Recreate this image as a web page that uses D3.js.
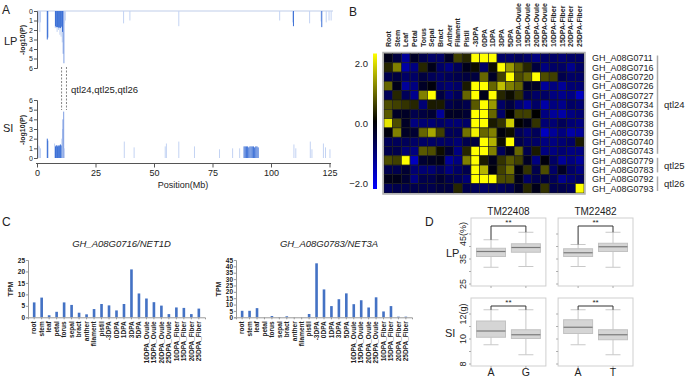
<!DOCTYPE html>
<html>
<head>
<meta charset="utf-8">
<script src="https://cdn.jsdelivr.net/npm/d3@7"></script>
<style>
body { margin: 0; background: #fff; }
text { font-family: "Liberation Sans", Arial, sans-serif; fill: #222; }
</style>
</head>
<body>
<div id="fig"></div>
<script>
// ---- panel A: Manhattan-like strips, [position Mb, -log10(P)]
var lpDark = [[4.4,3.0],[4.6,2.8],[7.9,1.6],[8.2,1.7],[8.5,1.7],[8.8,1.7],[9.1,1.7],[9.4,1.8],[9.7,1.7],[10.0,1.8],[10.3,1.7],[10.6,1.6],[10.9,2.2],[109.6,1.6],[121.7,1.7]];
var lpLight = [[0.3,1.3],[0.6,1.2],[0.9,1.0],[1.2,2.2],[1.5,1.2],[7.8,1.8],[8.6,2.2],[9.2,2.0],[9.8,2.5],[10.3,2.7],[10.8,3.3],[11.2,4.5],[11.5,5.5],[11.8,1.3],[12.1,1.0],[37,1.3],[39.7,1.0],[60.6,1.6],[103.7,1.0],[109.3,1.2],[116.5,1.3],[121.4,1.1],[123.6,1.2],[124.8,1.0],[125.7,1.0]];
var siDark = [[4.4,2.0],[4.6,1.8],[7.9,1.2],[8.2,1.3],[8.5,1.3],[8.8,1.2],[9.1,1.3],[9.4,1.2],[9.7,1.3],[10.0,1.4],[10.3,1.3],[88.5,1.2],[89.0,1.2],[89.5,1.2],[90.0,1.2],[90.5,1.1],[91.0,1.2],[91.5,1.2],[92.0,1.2],[92.5,1.2],[93.0,1.1],[93.5,1.2],[94.0,1.2],[94.5,1.1]];
var siLight = [[0.4,3.0],[0.7,1.3],[1.0,1.2],[1.5,1.0],[7.5,1.5],[10.6,2.0],[10.9,3.0],[11.1,4.0],[11.4,4.8],[11.7,1.0],[37.3,1.7],[41.5,1.1],[54.8,1.2],[55.3,1.5],[60.6,1.7],[67.3,1.2],[78,0.9],[83.6,1.0],[86.6,1.0],[109.8,1.4],[110.6,1.0],[116.8,1.7],[117.5,0.9],[122.4,1.5],[123.3,1.1],[125.2,0.9]];
var qtlLines = [10.5, 12.6];

// ---- panel B: heatmap
var hmCols = ["Root","Stem","Leaf","Petal","Torus","Sepal","Bract","Anther","Filament","Pistil","-3DPA","0DPA","1DPA","3DPA","5DPA","10DPA-Ovule","15DPA-Ovule","20DPA-Ovule","25DPA-Ovule","10DPA-Fiber","15DPA-Fiber","20DPA-Fiber","25DPA-Fiber"];
var geneIds = ["GH_A08G0711","GH_A08G0716","GH_A08G0720","GH_A08G0726","GH_A08G0727","GH_A08G0734","GH_A08G0736","GH_A08G0738","GH_A08G0739","GH_A08G0740","GH_A08G0743","GH_A08G0779","GH_A08G0783","GH_A08G0792","GH_A08G0793"];
var expr = [
  [-0.2,-0.5,-1.2,-0.3,-0.6,-0.8,-0.8,-0.3,0.5,0.3,2,2,2,-0.8,-0.8,-0.7,-0.8,-1.0,-0.8,-0.8,-0.9,-0.8,-0.8],
  [0.3,1.0,-1.3,-1.0,0.3,-0.2,-0.8,-1.0,-0.7,-0.2,0.1,-0.8,0.1,2,1.2,0.7,0.3,-0.5,-1.0,-0.8,-0.8,-1.1,-0.8],
  [-0.6,-0.5,-0.8,-0.8,-0.5,-0.7,-0.8,-0.7,-0.6,-0.5,-0.5,0.8,-0.3,0.5,2,0.6,0.8,2,0.6,0.5,-0.6,-0.8,-0.8],
  [0.8,-0.2,-1.2,-1.0,-0.3,-0.1,-0.8,-0.9,-0.8,0.2,2,2,0.8,1.5,1.0,0.8,-0.3,-0.3,-1.2,-1.0,-1.2,-0.9,-0.9],
  [-0.7,0.3,-0.7,-1.1,1.0,2,-0.5,-0.9,-0.7,0.8,2,-0.2,2,0.3,0.1,0.4,-0.6,-0.8,-0.8,-1.0,-1.1,-1.0,-1.5],
  [0.6,0.5,0.4,0.3,-0.9,0.2,0.2,-0.6,-0.5,-0.6,0.7,2,1.2,-0.8,-0.5,-0.9,-1.2,-0.8,-1.3,-1.0,-1.1,-0.8,-0.9],
  [0.7,-0.3,-0.3,-0.6,-0.5,-0.4,-1.2,-0.3,-0.3,-0.4,2,2,0.8,-0.8,0,0.5,0.5,0,-1.0,-1.2,-1.3,-1.0,-0.9],
  [1.8,0.6,-0.3,-1.0,-0.9,-0.9,-0.8,-0.9,-0.9,-0.8,2,2,0.2,0.4,1.6,0,-0.2,0.4,-0.9,-0.9,-0.7,-0.9,-1.0],
  [-0.1,1.0,-0.3,-0.4,0.8,1.3,0.5,-0.7,-0.7,0.9,1.9,0.8,1.0,-0.1,0.1,-0.7,-0.9,-0.7,-1.5,-1.2,-1.0,-1.3,-1.2],
  [-0.7,-0.7,-0.7,-0.8,-0.8,-0.8,-0.8,-0.8,-0.9,-0.6,-0.5,2,1.4,0.1,2,-0.6,-0.8,-0.8,-1.0,-1.0,-0.9,-0.8,0.2],
  [-0.6,-0.6,-0.9,-1.0,0.7,0.6,0.1,-0.4,-1.0,0.3,2,2,1.0,-0.7,-0.2,0.8,-0.6,0.2,-1.0,-1.0,-0.9,-1.0,-1.0],
  [0.6,0.5,2,-1.5,-0.4,-0.3,-0.2,-1.2,-1.0,1.0,2,0.2,-0.2,0.4,0.7,0.5,-0.3,-1.0,-0.1,-0.8,-1.2,-1.0,-1.2],
  [-0.6,-0.6,-0.4,-0.9,-0.9,-0.9,-0.7,-1.0,-0.8,-0.6,2,1.4,-0.1,0.5,0.9,-0.1,0.4,-0.6,0.6,-0.8,-0.3,-0.8,-1.0],
  [-0.2,-0.2,-0.4,-1.0,-0.6,-0.6,-0.4,-0.6,-0.7,-0.9,2,2,2,0.6,0.6,-0.2,-0.8,-0.6,-0.5,-0.7,-1.1,-0.9,-0.8],
  [-0.7,-0.6,-0.6,-0.6,-0.6,-0.6,-0.5,-0.5,0.3,-0.6,-0.7,-0.8,-0.7,-0.7,-0.6,-0.3,0.3,-0.2,0.4,-0.6,-0.6,-0.7,2]
];
var qtlNames = ["qtl24","qtl25","qtl26"];
var qtlRows = [[0,10],[11,12],[13,14]];

// ---- panel C: TPM bars
var tissues = ["root","stem","leaf","petal","torus","sepal","bract","anther","filament","pistil","-3DPA","0DPA","1DPA","3DPA","5DPA","10DPA_Ovule","15DPA_Ovule","20DPA_Ovule","25DPA_Ovule","10DPA_Fiber","15DPA_Fiber","20DPA_Fiber","25DPA_Fiber"];
var tpmNet1d = [6.5,8.6,0.9,2.4,6.5,5.4,2.0,1.3,3.6,5.8,5.2,3.0,5.8,20.9,10.4,8.2,6.6,5.1,1.4,4.3,4.1,1.4,3.8];
var tpmNet3a = [5.1,5.1,7.2,0,1.0,0.2,0.8,0,0,2.6,42.4,21.9,8.8,14.2,18.8,10.3,13.4,7.7,15.7,4.6,8.8,0.5,0.5];

// ---- panel D: box stats [lo, q1, median, q3, hi]
var markers = ["TM22408","TM22482"];
var alleles = [["A","G"],["A","T"]];
var lpStats = [[[31.5,35.8,37.8,39.1,42.5],[31.8,37.5,39.4,40.9,45.5]],
               [[31.8,35.8,37.3,38.9,40.6],[31.5,37.8,39.7,41.1,45.5]]];
var siStats = [[[9.5,10.1,10.6,11.4,12.3],[8.7,10.0,10.3,10.7,12.3]],
               [[9.5,10.4,10.9,11.5,12.3],[8.7,9.9,10.3,10.7,12.3]]];

var svg = d3.select("#fig").append("svg")
    .attr("width", 685)
    .attr("height", 377);

var darkBlue = "#3b6fd6", midBlue = "#7f9fe3", lightBlue = "#c3d3f3";

// ================= A =================
var xA = d3.scaleLinear().domain([0, 125]).range([37, 329.5]);
var yLP = d3.scaleLinear().domain([0, 6]).range([11, 68]);
var ySI = d3.scaleLinear().domain([0, 6]).range([158, 100]);

svg.append("text").attr("x", 2).attr("y", 14).style("font-size", "12px").text("A");

svg.append("line")
    .attr("x1", xA(0)).attr("x2", xA(126.5))
    .attr("y1", yLP(0)).attr("y2", yLP(0))
    .attr("stroke", "#dfe6f4").attr("stroke-width", 2);

function strips(data, y, color) {
    svg.append("g").selectAll("line")
        .data(data)
        .enter()
        .append("line")
        .attr("x1", function(d) { return xA(d[0]); })
        .attr("x2", function(d) { return xA(d[0]); })
        .attr("y1", y(0))
        .attr("y2", function(d) { return y(d[1]); })
        // the tall peak near 11 Mb is a bit darker than the rest
        .attr("stroke", function(d) { return (color === lightBlue && d[1] > 3.5) ? midBlue : color; })
        .attr("stroke-width", 1);
}
strips(lpLight, yLP, lightBlue);
strips(lpDark, yLP, darkBlue);
strips(siLight, ySI, lightBlue);
strips(siDark, ySI, darkBlue);

var lpAxis = svg.append("g")
    .attr("transform", "translate(37,0)")
    .call(d3.axisLeft(yLP).ticks(6).tickSize(3));
var siAxis = svg.append("g")
    .attr("transform", "translate(37,0)")
    .call(d3.axisLeft(ySI).ticks(6).tickSize(3));
[lpAxis, siAxis].forEach(function(g) {
    g.selectAll("text").style("font-size", "7px").attr("x", -4);
    g.selectAll("path,line").attr("stroke", "#555");
});

var xAxisA = svg.append("g")
    .attr("transform", "translate(0,163.5)")
    .call(d3.axisBottom(xA).tickValues([0, 25, 50, 75, 100, 125]).tickSize(4));
xAxisA.select(".domain").attr("d", "M36,0H331");
xAxisA.selectAll("path,line").attr("stroke", "#555");
xAxisA.selectAll("text").style("font-size", "9px").attr("y", 6);

svg.append("text").attr("x", 183).attr("y", 188)
    .attr("text-anchor", "middle").style("font-size", "9px").text("Position(Mb)");

svg.append("text").attr("x", 4).attr("y", 45).style("font-size", "11px").text("LP");
svg.append("text").attr("x", 3).attr("y", 132).style("font-size", "11px").text("SI");

[40, 130].forEach(function(cy) {
    svg.append("text")
        .attr("transform", "translate(25," + cy + ")rotate(-90)")
        .attr("text-anchor", "middle")
        .style("font-size", "7px").style("font-weight", "bold")
        .text("-log10(P)");
});

svg.selectAll("line.qtl")
    .data(qtlLines)
    .enter()
    .append("line")
    .attr("class", "qtl")
    .attr("x1", function(d) { return xA(d); })
    .attr("x2", function(d) { return xA(d); })
    .attr("y1", 67).attr("y2", 110)
    .attr("stroke", "#777").attr("stroke-width", 0.9)
    .attr("stroke-dasharray", "2,1.5");
svg.append("text").attr("x", 71).attr("y", 92.5)
    .style("font-size", "9.5px").text("qtl24,qtl25,qtl26");

// ================= B =================
svg.append("text").attr("x", 349).attr("y", 16).style("font-size", "12px").text("B");

var xH = d3.scaleBand().domain(hmCols).range([384, 584]);
var yH = d3.scaleBand().domain(geneIds).range([53.5, 193]);
var heat = d3.scaleLinear().domain([-2, 0, 2])
    .range(["#0000ff", "#000000", "#ffff00"]).clamp(true);

var cells = [];
expr.forEach(function(row, i) {
    row.forEach(function(v, j) { cells.push({g: geneIds[i], c: hmCols[j], v: v}); });
});
svg.append("g").selectAll("rect")
    .data(cells)
    .enter()
    .append("rect")
    .attr("x", function(d) { return xH(d.c); })
    .attr("y", function(d) { return yH(d.g); })
    .attr("width", xH.bandwidth())
    .attr("height", yH.bandwidth())
    .attr("fill", function(d) { return heat(d.v); })
    .attr("stroke", "#1a1a1a").attr("stroke-width", 0.6);
svg.append("rect")
    .attr("x", 383).attr("y", 52.5).attr("width", 202).attr("height", 141.5)
    .attr("fill", "none").attr("stroke", "#b0b0b0").attr("stroke-width", 1.5);

svg.append("g").selectAll("text")
    .data(hmCols)
    .enter()
    .append("text")
    .attr("transform", function(d) {
        return "translate(" + (xH(d) + xH.bandwidth() / 2 + 2.5) + ",47)rotate(-90)";
    })
    .style("font-size", "7px").style("font-weight", "bold")
    .text(function(d) { return d; });

svg.append("g").selectAll("text")
    .data(geneIds)
    .enter()
    .append("text")
    .attr("x", 592)
    .attr("y", function(d) { return yH(d) + yH.bandwidth() / 2 + 3.3; })
    .style("font-size", "9px")
    .text(function(d) { return d; });

qtlRows.forEach(function(r, i) {
    var y0 = yH(geneIds[r[0]]) + 2, y1 = yH(geneIds[r[1]]) + yH.bandwidth() - 2;
    svg.append("line").attr("x1", 657.5).attr("x2", 657.5).attr("y1", y0).attr("y2", y1)
        .attr("stroke", "#aaa").attr("stroke-width", 1.5);
    svg.append("text").attr("x", 664).attr("y", (y0 + y1) / 2 + 3.5)
        .style("font-size", "9.5px").text(qtlNames[i]);
});

// colour bar
var grad = svg.append("defs").append("linearGradient")
    .attr("id", "cbar").attr("x1", 0).attr("x2", 0).attr("y1", 0).attr("y2", 1);
grad.append("stop").attr("offset", "0%").attr("stop-color", "#ffff00");
grad.append("stop").attr("offset", "50%").attr("stop-color", "#000000");
grad.append("stop").attr("offset", "100%").attr("stop-color", "#0000ff");
svg.append("rect").attr("x", 373).attr("y", 53.5).attr("width", 4).attr("height", 135.5)
    .attr("fill", "url(#cbar)");
var yBar = d3.scaleLinear().domain([-2, 2]).range([183.5, 63.5]);
svg.append("g").selectAll("text")
    .data([2, 0, -2])
    .enter()
    .append("text")
    .attr("x", 368)
    .attr("y", function(d) { return yBar(d) + 3.5; })
    .attr("text-anchor", "end")
    .style("font-size", "9.5px")
    .text(function(d) { return d3.format(".1f")(d); });

// ================= C =================
svg.append("text").attr("x", 2).attr("y", 226).style("font-size", "12px").text("C");

function barChart(vals, x0, x1, ymax, title) {
    var x = d3.scaleBand().domain(tissues).range([x0, x1]).padding(0.65);
    var y = d3.scaleLinear().domain([0, ymax]).range([317.3, 260]);
    var g = svg.append("g");

    g.selectAll("rect")
        .data(vals)
        .enter()
        .append("rect")
        .attr("x", function(d, i) { return x(tissues[i]); })
        .attr("width", x.bandwidth())
        .attr("y", function(d) { return y(d); })
        .attr("height", function(d) { return y(0) - y(d); })
        .attr("fill", "#4472c4");

    var ya = g.append("g").attr("transform", "translate(" + x0 + ",0)")
        .call(d3.axisLeft(y).tickValues(d3.range(0, ymax + 1, 5)).tickSize(2));
    ya.selectAll("text").style("font-size", "6.5px").style("font-weight", "bold").attr("x", -3);
    var xa = g.append("g").attr("transform", "translate(0,317.3)")
        .call(d3.axisBottom(x).tickSize(2));
    xa.selectAll("text")
        .attr("transform", "rotate(-90)")
        .attr("x", -4).attr("y", 0).attr("dy", "0.35em")
        .style("text-anchor", "end")
        .style("font-size", "6.5px").style("font-weight", "bold");
    g.selectAll("path,line").attr("stroke", "#999");

    g.append("text")
        .attr("transform", "translate(" + (x0 - 15) + ",289)rotate(-90)")
        .attr("text-anchor", "middle")
        .style("font-size", "7px").style("font-weight", "bold")
        .text("TPM");
    g.append("text")
        .attr("x", (x0 + x1) / 2 + 5).attr("y", 246.5)
        .attr("text-anchor", "middle")
        .style("font-size", "9.5px").style("font-style", "italic")
        .text(title);
}
barChart(tpmNet1d, 28, 205, 25, "GH_A08G0716/NET1D");
barChart(tpmNet3a, 236, 412, 45, "GH_A08G0783/NET3A");

// ================= D =================
svg.append("text").attr("x", 425).attr("y", 226).style("font-size", "12px").text("D");

var xPanel = d3.scaleBand().domain(markers).range([471, 633]).paddingInner(0.14);
var yLPb = d3.scaleLinear().domain([24, 51.2]).range([286, 218]);
var ySIb = d3.scaleLinear().domain([7.8, 13.24]).range([366, 298]);

function boxRow(stats, y, ticks, labels, top, bottom) {
    markers.forEach(function(m, k) {
        var px = xPanel(m), pw = xPanel.bandwidth();
        var xa = d3.scalePoint().domain(alleles[k]).range([px + 20, px + pw - 20]);
        var g = svg.append("g");
        g.append("rect").attr("x", px).attr("y", top).attr("width", pw).attr("height", bottom - top)
            .attr("fill", "none").attr("stroke", "#cfcfcf");

        var ax = g.append("g").attr("transform", "translate(" + px + ",0)")
            .call(d3.axisLeft(y).tickValues(ticks).tickSize(2)
                .tickFormat(function(d, i) { return k === 0 ? (labels[i] || "") : ""; }));
        ax.select(".domain").remove();
        ax.selectAll("line").attr("stroke", "#aaa");
        ax.selectAll("text")
            .attr("transform", "rotate(-90)")
            .attr("x", 0).attr("y", -5).attr("dy", 0)
            .style("text-anchor", "middle").style("font-size", "9px");

        // bottom ticks
        g.selectAll("line.bt")
            .data(alleles[k])
            .enter()
            .append("line")
            .attr("x1", function(d) { return xa(d); })
            .attr("x2", function(d) { return xa(d); })
            .attr("y1", bottom).attr("y2", bottom + 2)
            .attr("stroke", "#aaa");

        stats[k].forEach(function(s, j) {
            var cx = xa(alleles[k][j]);
            g.append("line").attr("x1", cx).attr("x2", cx).attr("y1", y(s[0])).attr("y2", y(s[4]))
                .attr("stroke", "#c8c8c8");
            [s[0], s[4]].forEach(function(v) {
                g.append("line").attr("x1", cx - 7.5).attr("x2", cx + 7.5).attr("y1", y(v)).attr("y2", y(v))
                    .attr("stroke", "#c8c8c8");
            });
            g.append("rect").attr("x", cx - 14.5).attr("width", 29)
                .attr("y", y(s[3])).attr("height", y(s[1]) - y(s[3]))
                .attr("fill", "#d5d5d5").attr("stroke", "#c2c2c2");
            g.append("line").attr("x1", cx - 14.5).attr("x2", cx + 14.5).attr("y1", y(s[2])).attr("y2", y(s[2]))
                .attr("stroke", "#7a7a7a").attr("stroke-width", 1.2);
        });

        // significance bracket
        var by = top + 8;
        var a = alleles[k];
        g.append("path")
            .attr("d", "M" + xa(a[0]) + "," + y(stats[k][0][4]) + "V" + by + "H" + xa(a[1]) + "V" + y(stats[k][1][4]))
            .attr("fill", "none").attr("stroke", "#333");
        g.append("text").attr("x", (xa(a[0]) + xa(a[1])) / 2).attr("y", by - 1)
            .attr("text-anchor", "middle").style("font-size", "8px").text("**");
    });
}
boxRow(lpStats, yLPb, [25, 30, 35, 40, 45], ["25", "", "35", "", "45(%)"], 218, 286);
boxRow(siStats, ySIb, [8, 9, 10, 11, 12], ["8", "", "10", "", "12(g)"], 298, 366);

markers.forEach(function(m, k) {
    var px = xPanel(m), pw = xPanel.bandwidth();
    svg.append("text").attr("x", px + pw / 2).attr("y", 215)
        .attr("text-anchor", "middle").style("font-size", "10px").text(m);
    var xa = d3.scalePoint().domain(alleles[k]).range([px + 20, px + pw - 20]);
    alleles[k].forEach(function(a) {
        svg.append("text").attr("x", xa(a)).attr("y", 376)
            .attr("text-anchor", "middle").style("font-size", "10.5px").text(a);
    });
});
svg.append("text").attr("x", 446).attr("y", 257).style("font-size", "11px").text("LP");
svg.append("text").attr("x", 445).attr("y", 337).style("font-size", "11px").text("SI");
</script>
</body>
</html>
